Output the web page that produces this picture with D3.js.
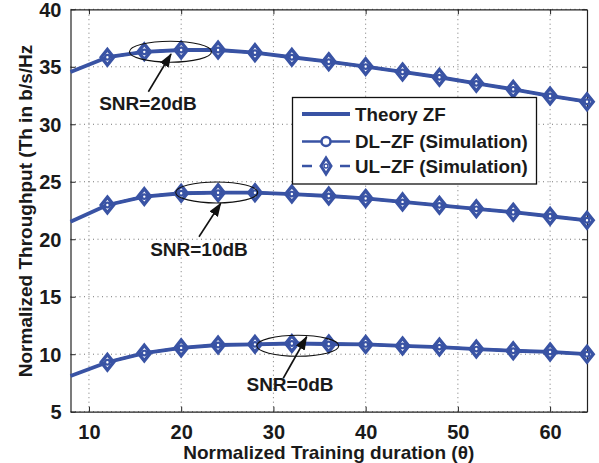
<!DOCTYPE html>
<html><head><meta charset="utf-8">
<script src="https://cdn.jsdelivr.net/npm/d3@7"></script>
<style>
html,body{margin:0;padding:0;background:#fff;}
text{font-family:"Liberation Sans",Arial,Helvetica,sans-serif;font-weight:bold;fill:#1a1a1a;}
</style></head>
<body>
<svg id="chart" width="599" height="463"></svg>
<script>
// ---- data ----
const xTheory = [8,12,16,20,24,28,32,36,40,44,48,52,56,60,64];
const xSim = [12,16,20,24,28,32,36,40,44,48,52,56,60,64];
const theory20 = [34.55,35.83,36.30,36.46,36.46,36.23,35.83,35.44,35.02,34.55,34.09,33.56,33.04,32.46,31.96];
const theory10 = [21.53,22.98,23.71,24.00,24.05,24.05,23.93,23.76,23.55,23.25,22.95,22.65,22.35,22.00,21.65];
const theory0  = [8.10,9.30,10.10,10.55,10.80,10.86,10.93,10.89,10.85,10.72,10.62,10.45,10.30,10.20,10.00];
const dl20 = [35.83,36.30,36.46,36.46,36.23,35.83,35.44,35.02,34.55,34.09,33.56,33.04,32.46,31.96];
const ul20 = [35.83,36.30,36.46,36.46,36.23,35.83,35.44,35.02,34.55,34.09,33.56,33.04,32.46,31.96];
const dl10 = [22.98,23.71,24.00,24.05,24.05,23.93,23.76,23.55,23.25,22.95,22.65,22.35,22.00,21.65];
const ul10 = [22.98,23.71,24.00,24.05,24.05,23.93,23.76,23.55,23.25,22.95,22.65,22.35,22.00,21.65];
const dl0  = [9.30,10.10,10.55,10.80,10.86,10.93,10.89,10.85,10.72,10.62,10.45,10.30,10.20,10.00];
const ul0  = [9.30,10.10,10.55,10.80,10.86,10.93,10.89,10.85,10.72,10.62,10.45,10.30,10.20,10.00];
const xTicks = [10,20,30,40,50,60];
const yTicks = [5,10,15,20,25,30,35,40];
const legendLabels = ["Theory ZF","DL\u2212ZF (Simulation)","UL\u2212ZF (Simulation)"];
// annotation anchors in data units: ellipse centre, arrow tip, arrow tail, text
const annLabels = ["SNR=20dB","SNR=10dB","SNR=0dB"];
const annEllipse = [[18.84,36.31],[23.85,24.07],[32.64,10.73]];
const annTip     = [[18.90,36.11],[24.29,23.13],[33.61,11.52]];
const annTail    = [[16.44,32.83],[21.93,20.22],[31.07,7.91]];
const annText    = [[16.40,31.24],[21.93,18.54],[31.80,6.80]];

const color = "#3953a4";
const svg = d3.select("#chart");
const x = d3.scaleLinear().domain([8,64]).range([70.5,587]);
const y = d3.scaleLinear().domain([5,40]).range([411.7,9.3]);
const x0=x.range()[0], x1=x.range()[1], y0=y.range()[0], y1=y.range()[1];

// grid
const grid = svg.append("g");
xTicks.forEach(t=>grid.append("line").attr("x1",x(t)).attr("x2",x(t)).attr("y1",y0).attr("y2",y1)
  .attr("stroke","#777").attr("stroke-width",1).attr("stroke-dasharray","1,3.5"));
yTicks.forEach(t=>grid.append("line").attr("x1",x0).attr("x2",x1).attr("y1",y(t)).attr("y2",y(t))
  .attr("stroke","#777").attr("stroke-width",1).attr("stroke-dasharray","1,3.5"));

// axes (ticks inward)
const axB = svg.append("g").attr("transform",`translate(0,${y0})`).call(d3.axisBottom(x).tickValues(xTicks).tickSizeInner(-5).tickSizeOuter(0).tickPadding(13));
const axL = svg.append("g").attr("transform",`translate(${x0},0)`).call(d3.axisLeft(y).tickValues(yTicks).tickSizeInner(-5).tickSizeOuter(0).tickPadding(9));
const axT = svg.append("g").attr("transform",`translate(0,${y1})`).call(d3.axisTop(x).tickValues(xTicks).tickSizeInner(-5).tickSizeOuter(0).tickFormat(""));
const axR = svg.append("g").attr("transform",`translate(${x1},0)`).call(d3.axisRight(y).tickValues(yTicks).tickSizeInner(-5).tickSizeOuter(0).tickFormat(""));
[axB,axL,axT,axR].forEach(a=>{
  a.select(".domain").attr("stroke","#222").attr("stroke-width",1.2);
  a.selectAll(".tick line").attr("stroke","#222");
  a.selectAll("text").attr("font-size",20).attr("font-family","'Liberation Sans',Arial,sans-serif").attr("font-weight","bold").attr("fill","#1a1a1a");
});
axL.selectAll("text").attr("dy","0.35em");

// axis titles
svg.append("text").attr("x",(x0+x1)/2).attr("y",459).attr("text-anchor","middle").attr("font-size",19)
  .text("Normalized Training duration (\u03B8)");
svg.append("text").attr("transform","translate(32,211) rotate(-90)").attr("text-anchor","middle").attr("font-size",19)
  .text("Normalized Throughput (Th in b/s/Hz");

// lines
const lineT = d3.line().x((d,i)=>x(xTheory[i])).y(d=>y(d));
const lineS = d3.line().x((d,i)=>x(xSim[i])).y(d=>y(d));
const plot = svg.append("g");
[theory20,theory10,theory0].forEach(s=>plot.append("path").attr("d",lineT(s)).attr("fill","none")
  .attr("stroke",color).attr("stroke-width",3.8).attr("stroke-linejoin","round"));
[dl20,dl10,dl0].forEach(s=>plot.append("path").attr("d",lineS(s)).attr("fill","none")
  .attr("stroke",color).attr("stroke-width",2.5));
[ul20,ul10,ul0].forEach(s=>plot.append("path").attr("d",lineS(s)).attr("fill","none")
  .attr("stroke",color).attr("stroke-width",2.5).attr("stroke-dasharray","8,5"));

function diamond(g,cx,cy,hw,hh,sw){
  g.append("path").attr("d",`M${cx},${cy-hh}L${cx+hw},${cy}L${cx},${cy+hh}L${cx-hw},${cy}Z`)
    .attr("fill","none").attr("stroke",color).attr("stroke-width",sw);
}
function circ(g,cx,cy,r,sw){
  g.append("circle").attr("cx",cx).attr("cy",cy).attr("r",r).attr("fill","#fff").attr("stroke",color).attr("stroke-width",sw);
}
[ul20,ul10,ul0].forEach(s=>s.forEach((v,i)=>diamond(plot,x(xSim[i]),y(v),6.2,7.8,3.4)));
[dl20,dl10,dl0].forEach(s=>s.forEach((v,i)=>circ(plot,x(xSim[i]),y(v),2.3,2.2)));

// annotations
svg.append("defs").append("marker").attr("id","ah").attr("markerUnits","userSpaceOnUse")
  .attr("markerWidth",14).attr("markerHeight",10).attr("refX",13).attr("refY",5).attr("orient","auto")
  .append("path").attr("d","M0,0L14,5L0,10Z").attr("fill","#111");
const ann = svg.append("g");
annLabels.forEach((lab,i)=>{
  ann.append("ellipse").attr("cx",x(annEllipse[i][0])).attr("cy",y(annEllipse[i][1])).attr("rx",41).attr("ry",10.5)
    .attr("fill","none").attr("stroke","#111").attr("stroke-width",1.1);
  ann.append("line").attr("x1",x(annTail[i][0])).attr("y1",y(annTail[i][1]))
    .attr("x2",x(annTip[i][0])).attr("y2",y(annTip[i][1]))
    .attr("stroke","#111").attr("stroke-width",1.6).attr("marker-end","url(#ah)");
  ann.append("text").attr("x",x(annText[i][0])).attr("y",y(annText[i][1])).attr("text-anchor","middle").attr("font-size",19).text(lab);
});

// legend
const lg = svg.append("g");
lg.append("rect").attr("x",292.5).attr("y",97.5).attr("width",244).attr("height",86.5)
  .attr("fill","#fff").attr("stroke","#111").attr("stroke-width",1.3);
const ly=[114,141.5,166];
lg.append("line").attr("x1",302).attr("x2",350).attr("y1",ly[0]).attr("y2",ly[0]).attr("stroke",color).attr("stroke-width",3.8);
lg.append("line").attr("x1",302).attr("x2",350).attr("y1",ly[1]).attr("y2",ly[1]).attr("stroke",color).attr("stroke-width",2.5);
circ(lg,326,ly[1],4.5,2.5);
lg.append("line").attr("x1",302).attr("x2",350).attr("y1",ly[2]).attr("y2",ly[2]).attr("stroke",color).attr("stroke-width",2.5).attr("stroke-dasharray","10,28,10");
diamond(lg,326,ly[2],5,8,3);
circ(lg,326,ly[2],2,1.5);
legendLabels.forEach((t,i)=>lg.append("text").attr("x",355).attr("y",ly[i]).attr("dy","0.36em").attr("font-size",18.8).text(t));
</script>
</body></html>
